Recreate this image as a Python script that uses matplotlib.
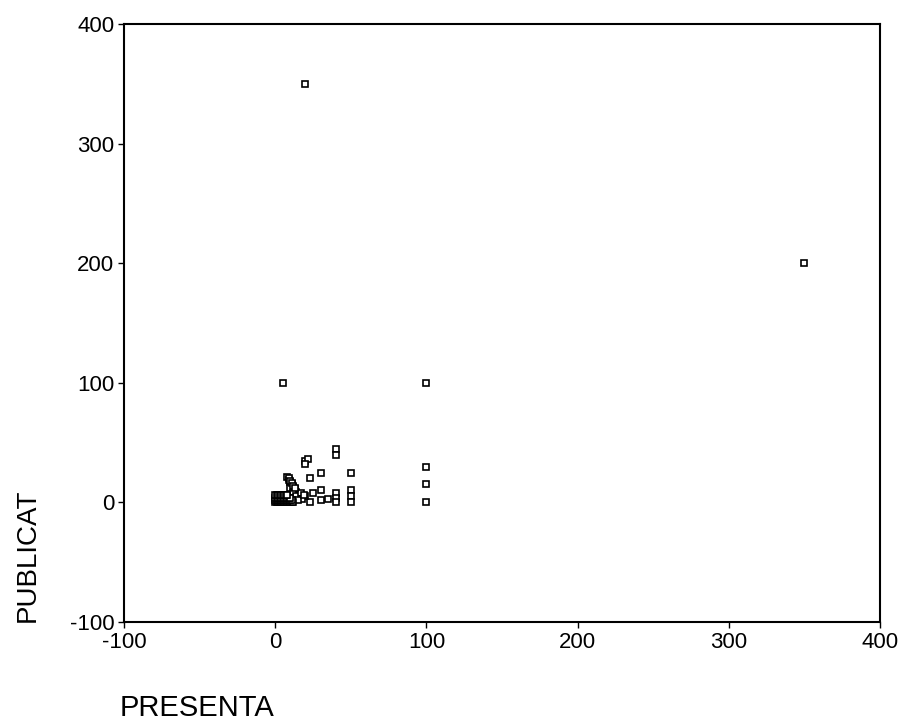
import matplotlib
matplotlib.use("Agg")
import matplotlib.pyplot as plt

plt.rcParams['font.family'] = ['Liberation Sans', 'DejaVu Sans']
plt.rcParams['axes.unicode_minus'] = False

# Data (PRESENTA, PUBLICAT)
presenta = [20, 350, 5, 100, 100, 100, 100,
            50, 50, 50, 50,
            40, 40, 40, 40, 40,
            30, 30, 30, 35, 25, 23, 20,
            20, 22, 20, 23,
            8, 9, 10, 11, 12, 13, 14, 15, 16, 10, 12, 14, 17, 18, 15, 19,
            9, 10, 11, 12, 13,
            0, 1, 2, 3, 4, 5, 6, 7, 8, 9, 10, 11, 12,
            0, 1, 2, 3, 4, 5, 6, 7, 8, 9, 10, 11,
            0, 1, 2, 3, 4, 5, 6, 7, 8, 9, 10,
            0, 1, 2, 3, 4, 5, 6, 7, 8]
publicat = [350, 200, 100, 100, 30, 15, 0,
            25, 10, 5, 0,
            45, 40, 8, 4, 0,
            25, 10, 2, 3, 8, 0, 5,
            35, 36, 32, 20,
            21, 19, 17, 15, 13, 11, 9, 7, 5, 12, 8, 5, 8, 3, 2, 6,
            20, 18, 16, 14, 12,
            0, 0, 0, 0, 0, 0, 0, 0, 0, 0, 0, 0, 0,
            2, 2, 2, 2, 2, 2, 2, 2, 2, 2, 2, 2,
            4, 4, 4, 4, 4, 4, 4, 4, 4, 4, 4,
            6, 6, 6, 6, 6, 6, 6, 6, 6]

xticks = [-100, 0, 100, 200, 300, 400]
yticks = [-100, 0, 100, 200, 300, 400]

fig = plt.figure(figsize=(9.02, 7.28), dpi=100)
ax = fig.add_axes([124/902, 1 - 622/728, (880 - 124)/902, (622 - 24)/728])

ax.plot(presenta, publicat, linestyle='none', marker='s', markersize=5,
        markerfacecolor='white', markeredgecolor='black', markeredgewidth=1.2)

ax.set_xlim(-100, 400)
ax.set_ylim(-100, 400)
ax.set_xticks(xticks)
ax.set_yticks(yticks)
ax.tick_params(direction='out', length=4, width=1, labelsize=16, pad=3, colors='black')
for s in ax.spines.values():
    s.set_linewidth(1.5)
    s.set_color('black')

fig.text(120/902, 1 - 722/728, 'PRESENTA', fontsize=21, ha='left', va='bottom')
fig.text(15/902, 1 - 622/728, 'PUBLICAT', fontsize=20, rotation=90, ha='left', va='bottom')

fig.savefig('out.png', dpi=100)
